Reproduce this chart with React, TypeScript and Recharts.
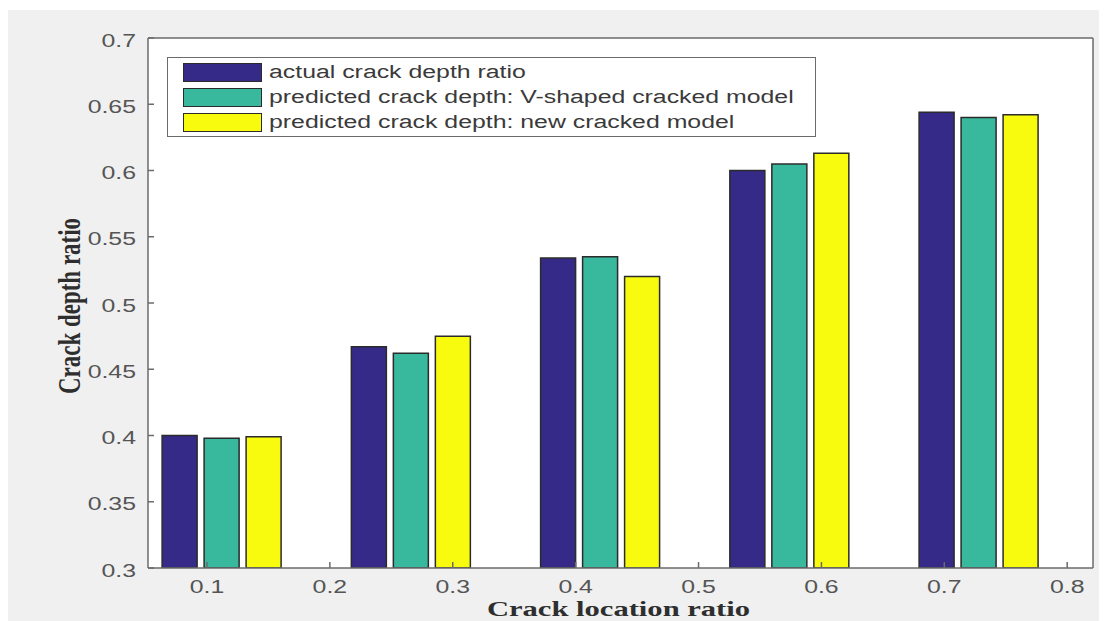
import React from 'react';
import { BarChart, Bar, XAxis, YAxis, CartesianGrid, Legend } from 'recharts';

// crack location ratio of each bar group
const locations = [0.112, 0.266, 0.42, 0.574, 0.728];
const actualDepth = [0.4, 0.467, 0.534, 0.6, 0.644];
const vShapedDepth = [0.398, 0.462, 0.535, 0.605, 0.64];
const newModelDepth = [0.399, 0.475, 0.52, 0.613, 0.642];

const xTicks = [0.1, 0.2, 0.3, 0.4, 0.5, 0.6, 0.7, 0.8];
const yTicks = [0.3, 0.35, 0.4, 0.45, 0.5, 0.55, 0.6, 0.65, 0.7];

const seriesNames = [
  'actual crack depth ratio',
  'predicted crack depth: V-shaped cracked model',
  'predicted crack depth: new cracked model',
];
const seriesColors = ['#352a87', '#38b99e', '#f9fb0e'];

const data = locations.map((loc, i) => ({
  loc,
  actual: actualDepth[i],
  vshaped: vShapedDepth[i],
  newmodel: newModelDepth[i],
}));

const X_DOMAIN: [number, number] = [0.052, 0.821];
const Y_DOMAIN: [number, number] = [0.3, 0.7];
const STRETCH = 1.38;
const frame = '#6b6b6b';
const sans = '"Liberation Sans", Arial, sans-serif';
const serif = '"Liberation Serif", "Times New Roman", serif';

const XTick = ({ x, y, payload }: any) => (
  <text
    transform={`translate(${x},${y + 11}) scale(${STRETCH},1)`}
    textAnchor="middle"
    fontFamily={sans}
    fontSize={18}
    fill="#555"
  >
    {String(payload.value)}
  </text>
);

const YTick = ({ x, y, payload }: any) => (
  <text
    transform={`translate(${x},${y + 8.5}) scale(${STRETCH},1)`}
    textAnchor="end"
    fontFamily={sans}
    fontSize={18}
    fill="#555"
  >
    {String(payload.value)}
  </text>
);

const LegendBox = () => (
  <div
    style={{
      position: 'relative',
      width: 649,
      height: 80,
      boxSizing: 'border-box',
      border: `1.5px solid ${frame}`,
      background: '#fff',
    }}
  >
    {seriesNames.map((name, i) => (
      <div key={name} style={{ position: 'absolute', left: 15, top: 5 + i * 25, height: 19, display: 'flex' }}>
        <div
          style={{
            width: 79,
            height: 19,
            boxSizing: 'border-box',
            border: '1.5px solid #2b2b2b',
            background: seriesColors[i],
          }}
        />
        <span
          style={{
            display: 'inline-block',
            marginLeft: 7,
            fontFamily: sans,
            fontSize: 18,
            lineHeight: '19px',
            color: '#3a3a3a',
            whiteSpace: 'nowrap',
            transform: `scaleX(${STRETCH})`,
            transformOrigin: 'left center',
          }}
        >
          {name}
        </span>
      </div>
    ))}
  </div>
);

export default function App() {
  return (
    <div style={{ marginTop: 2, width: 1091, height: 611, background: '#f0f0f0' }}>
      <BarChart
        width={1091}
        height={611}
        data={data}
        margin={{ top: 27, right: 0, bottom: 0, left: 0 }}
        barGap={7}
      >
        <CartesianGrid fill="#fff" horizontal={false} vertical={false} />
        <XAxis
          xAxisId="bottom"
          dataKey="loc"
          type="number"
          domain={X_DOMAIN}
          allowDataOverflow
          ticks={xTicks}
          interval={0}
          height={53}
          tickSize={-6}
          tickMargin={20}
          stroke={frame}
          strokeWidth={1.5}
          tick={<XTick />}
          label={{
            value: 'Crack location ratio',
            position: 'insideBottom',
            content: ({ viewBox }: any) => (
              <text
                transform={`translate(${viewBox.x + viewBox.width / 2 - 2},606.2) scale(1.39,1)`}
                textAnchor="middle"
                fontFamily={serif}
                fontWeight="bold"
                fontSize={22}
                fill="#2e2e2e"
              >
                Crack location ratio
              </text>
            ),
          }}
        />
        <XAxis
          xAxisId="top"
          orientation="top"
          type="number"
          domain={X_DOMAIN}
          allowDataOverflow
          ticks={xTicks}
          interval={0}
          height={1}
          tickSize={-6}
          tick={false}
          stroke={frame}
          strokeWidth={1.5}
        />
        <YAxis
          yAxisId="left"
          type="number"
          domain={Y_DOMAIN}
          allowDataOverflow
          ticks={yTicks}
          interval={0}
          width={140}
          tickSize={-6}
          tickMargin={18}
          stroke={frame}
          strokeWidth={1.5}
          tick={<YTick />}
          label={{
            value: 'Crack depth ratio',
            content: ({ viewBox }: any) => (
              <text
                transform={`translate(62,${viewBox.y + viewBox.height / 2 + 3}) scale(1.33,1) rotate(-90)`}
                textAnchor="middle"
                dominantBaseline="central"
                fontFamily={serif}
                fontWeight="bold"
                fontSize={23}
                fill="#2e2e2e"
              >
                Crack depth ratio
              </text>
            ),
          }}
        />
        <YAxis
          yAxisId="right"
          orientation="right"
          type="number"
          domain={Y_DOMAIN}
          allowDataOverflow
          ticks={yTicks}
          interval={0}
          width={6}
          tickSize={-6}
          tick={false}
          stroke={frame}
          strokeWidth={1.5}
        />
        <Legend
          layout="vertical"
          align="center"
          verticalAlign="middle"
          content={<LegendBox />}
          wrapperStyle={{ left: 159, top: 47, width: 649, height: 80 }}
        />
        <Bar xAxisId="bottom" yAxisId="left" dataKey="actual" name={seriesNames[0]} fill={seriesColors[0]} stroke="#2b2b2b" strokeWidth={1.5} barSize={35} isAnimationActive={false} />
        <Bar xAxisId="bottom" yAxisId="left" dataKey="vshaped" name={seriesNames[1]} fill={seriesColors[1]} stroke="#2b2b2b" strokeWidth={1.5} barSize={35} isAnimationActive={false} />
        <Bar xAxisId="bottom" yAxisId="left" dataKey="newmodel" name={seriesNames[2]} fill={seriesColors[2]} stroke="#2b2b2b" strokeWidth={1.5} barSize={35} isAnimationActive={false} />
      </BarChart>
    </div>
  );
}
